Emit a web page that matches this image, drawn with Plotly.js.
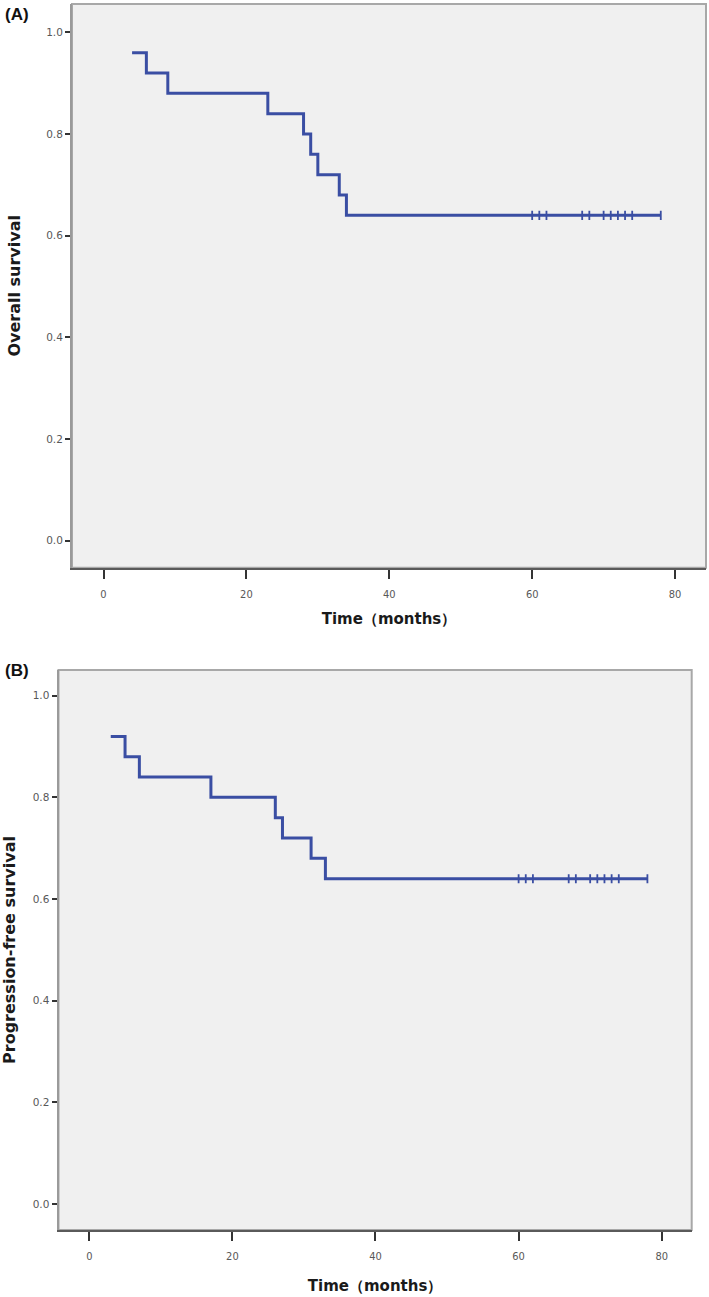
<!DOCTYPE html>
<html>
<head>
<meta charset="utf-8">
<script src="https://cdn.plot.ly/plotly-3.0.1.min.js"></script>
<style>
  html, body { margin: 0; padding: 0; background: #ffffff; }
  #chart { width: 709px; height: 1297px; }
</style>
</head>
<body>
<div id="chart"></div>
<script>
// ---- Panel A: Overall survival ----
const osTimes    = [4, 6, 9, 23, 28, 29, 30, 33, 34, 78];
const osSurv     = [0.96, 0.92, 0.88, 0.84, 0.80, 0.76, 0.72, 0.68, 0.64, 0.64];
const osCensorT  = [60, 61, 62, 67, 68, 70, 71, 72, 73, 74, 78];
const osCensorS  = [0.64, 0.64, 0.64, 0.64, 0.64, 0.64, 0.64, 0.64, 0.64, 0.64, 0.64];

// ---- Panel B: Progression-free survival ----
const pfsTimes   = [3, 5, 7, 17, 26, 27, 31, 33, 78];
const pfsSurv    = [0.92, 0.88, 0.84, 0.80, 0.76, 0.72, 0.68, 0.64, 0.64];
const pfsCensorT = [60, 61, 62, 67, 68, 70, 71, 72, 73, 74, 78];
const pfsCensorS = [0.64, 0.64, 0.64, 0.64, 0.64, 0.64, 0.64, 0.64, 0.64, 0.64, 0.64];

// ---- Axis labels ----
const xTickVals = [0, 20, 40, 60, 80];
const yTickVals = [0.0, 0.2, 0.4, 0.6, 0.8, 1.0];
const xTitle = 'Time\uFF08months\uFF09';
const yTitleA = 'Overall survival';
const yTitleB = 'Progression-free survival';
const panelA = '(A)';
const panelB = '(B)';

const lineColor = '#3a4ea3';

function stepTrace(x, y, xa, ya) {
  return { x: x, y: y, xaxis: xa, yaxis: ya, type: 'scatter', mode: 'lines',
           line: { shape: 'hv', color: lineColor, width: 3 }, hoverinfo: 'skip', showlegend: false };
}
function censorTrace(x, y, xa, ya) {
  return { x: x, y: y, xaxis: xa, yaxis: ya, type: 'scatter', mode: 'markers',
           marker: { symbol: 'line-ns-open', size: 6.5, color: lineColor, line: { color: lineColor, width: 1.8 } },
           hoverinfo: 'skip', showlegend: false };
}

const data = [
  stepTrace(osTimes, osSurv, 'x', 'y'),
  censorTrace(osCensorT, osCensorS, 'x', 'y'),
  stepTrace(pfsTimes, pfsSurv, 'x2', 'y2'),
  censorTrace(pfsCensorT, pfsCensorS, 'x2', 'y2')
];

const xTickFont = { family: 'DejaVu Sans Condensed, DejaVu Sans', size: 11, color: '#585858' };
const yTickFont = { family: 'DejaVu Sans', size: 10.5, color: '#585858' };
const xTitleFont = { family: 'DejaVu Sans', size: 15, color: '#1a1a1a', weight: 'bold' };
const yTitleFont = { family: 'DejaVu Sans', size: 16, color: '#1a1a1a', weight: 'bold' };

function xAxis(domain, range, anchor, standoff) {
  return {
    domain: domain, range: range, anchor: anchor,
    tickvals: xTickVals, ticks: 'outside', ticklen: 9, tickwidth: 2, tickcolor: '#333',
    ticklabelstandoff: 6,
    showline: true, linecolor: '#5a5a5a', linewidth: 2,
    showgrid: false, zeroline: false, fixedrange: true,
    tickfont: xTickFont,
    title: { text: xTitle, font: xTitleFont, standoff: standoff }
  };
}
function yAxis(domain, range, anchor, title, standoff) {
  return {
    domain: domain, range: range, anchor: anchor,
    tickvals: yTickVals, tickformat: '.1f', ticks: 'outside', ticklen: 5, tickwidth: 2, tickcolor: '#333',
    showline: true, linecolor: '#9a9a9a', linewidth: 2,
    showgrid: false, zeroline: false, fixedrange: true,
    tickfont: yTickFont,
    title: { text: title, font: yTitleFont, standoff: standoff }
  };
}

const layout = {
  width: 709, height: 1297,
  margin: { l: 0, r: 0, t: 0, b: 0 },
  paper_bgcolor: '#ffffff',
  plot_bgcolor: '#f0f0f0',
  showlegend: false,
  xaxis:  xAxis([72/709, 706/709], [-4.41, 84.33], 'y', 14),
  yaxis:  yAxis([1 - 567.7/1297, 1 - 4/1297], [-0.0531, 1.0557], 'x', yTitleA, 22),
  xaxis2: xAxis([58.5/709, 691.7/709], [-4.30, 84.19], 'y2', 18),
  yaxis2: yAxis([1 - 1230/1297, 1 - 670/1297], [-0.0512, 1.0506], 'x2', yTitleB, 14.5),
  shapes: [
    { type: 'rect', xref: 'x domain', yref: 'y domain', x0: 0, x1: 1, y0: 0, y1: 1,
      line: { color: '#a8a8a8', width: 2 }, layer: 'below' },
    { type: 'rect', xref: 'x2 domain', yref: 'y2 domain', x0: 0, x1: 1, y0: 0, y1: 1,
      line: { color: '#a8a8a8', width: 2 }, layer: 'below' }
  ],
  annotations: [
    { text: panelA, xref: 'paper', yref: 'paper', x: 3/709, y: 1 - 15/1297, xanchor: 'left', yanchor: 'middle',
      showarrow: false, font: { family: 'Liberation Sans, Arial', size: 17, color: '#111', weight: 'bold' } },
    { text: panelB, xref: 'paper', yref: 'paper', x: 3/709, y: 1 - 670/1297, xanchor: 'left', yanchor: 'middle',
      showarrow: false, font: { family: 'Liberation Sans, Arial', size: 17, color: '#111', weight: 'bold' } }
  ]
};

Plotly.newPlot('chart', data, layout, { displayModeBar: false, staticPlot: true });
</script>
</body>
</html>
